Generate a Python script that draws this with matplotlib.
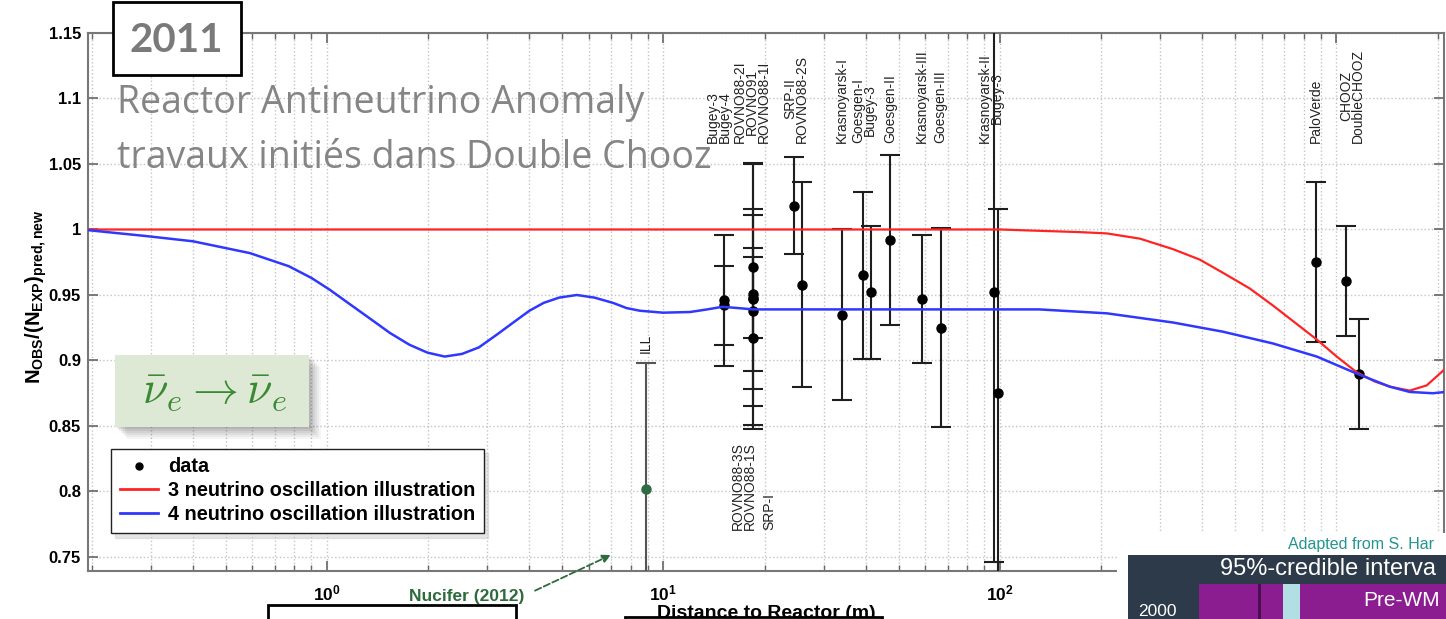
import matplotlib
matplotlib.use("Agg")
import matplotlib.pyplot as plt
from matplotlib.patches import Rectangle
from matplotlib.lines import Line2D
from matplotlib.ticker import LogLocator, NullFormatter

plt.rcParams['font.family'] = ['Liberation Sans', 'DejaVu Sans']
plt.rcParams['mathtext.fontset'] = 'custom'
plt.rcParams['mathtext.rm'] = 'Liberation Sans'
plt.rcParams['mathtext.bf'] = 'Liberation Sans:bold'
plt.rcParams['mathtext.it'] = 'Liberation Sans:italic'

# ---------------- data ----------------
# reactor experiments: distance (m), observed/expected ratio, error
exp_dist = [15.18, 15.18, 18.45, 18.45, 18.45, 18.45, 18.45, 18.45, 24.4, 25.8,
            33.9, 39.2, 41.4, 47.3, 58.9, 67.0, 96.0, 98.7, 869, 1067, 1167]
exp_ratio = [0.942, 0.946, 0.971, 0.951, 0.947, 0.938, 0.917, 0.948, 1.018, 0.958,
             0.935, 0.965, 0.952, 0.992, 0.947, 0.925, 0.952, 0.875, 0.975, 0.961, 0.890]
exp_err = [0.030, 0.050, 0.079, 0.100, 0.069, 0.073, 0.069, 0.031, 0.037, 0.078,
           0.065, 0.064, 0.051, 0.065, 0.049, 0.076, 0.206, 0.141, 0.061, 0.042, 0.042]

# ILL point (drawn in green)
ill_dist = [8.87]
ill_ratio = [0.802]
ill_err = [0.096]

# 3 neutrino oscillation illustration
red_dist = [0.195, 100, 131, 173, 208, 261, 327, 393, 460, 553, 648, 753, 875,
            1003, 1150, 1301, 1443, 1653, 1857, 2115]
red_ratio = [1.0, 1.0, 0.999, 0.998, 0.997, 0.993, 0.985, 0.977, 0.967, 0.955, 0.942,
             0.929, 0.916, 0.903, 0.891, 0.884, 0.880, 0.877, 0.881, 0.894]

# 4 neutrino oscillation illustration
blue_dist = [0.195, 0.29, 0.40, 0.59, 0.77, 0.90, 1.02, 1.17, 1.36, 1.54, 1.76,
             1.99, 2.24, 2.52, 2.83, 3.21, 3.67, 4.00, 4.41, 4.90, 5.53, 6.24,
             7.08, 7.78, 8.51, 9.97, 12.0, 13.5, 15.0, 16.7, 18.5, 35.8, 100,
             131, 208, 327, 460, 648, 875, 1150, 1443, 1653, 1935, 2115]
blue_ratio = [0.9995, 0.995, 0.991, 0.982, 0.972, 0.963, 0.954, 0.943, 0.931,
              0.921, 0.912, 0.906, 0.903, 0.905, 0.910, 0.920, 0.931, 0.938,
              0.944, 0.948, 0.950, 0.948, 0.944, 0.940, 0.938, 0.9365, 0.937,
              0.939, 0.941, 0.940, 0.939, 0.939, 0.939, 0.939, 0.936, 0.929,
              0.922, 0.913, 0.903, 0.890, 0.880, 0.876, 0.875, 0.876]

# experiment names (stacked names share one label)
top_labels = ['Bugey-3\nBugey-4', 'ROVNO88-2I\nROVNO91\nROVNO88-1I',
              'SRP-II\nROVNO88-2S', 'Krasnoyarsk-I', 'Goesgen-I\nBugey-3',
              'Goesgen-II', 'Krasnoyarsk-III', 'Goesgen-III',
              'Krasnoyarsk-II\nBugey-3', 'PaloVerde', 'CHOOZ\nDoubleCHOOZ']
top_label_x = [14.6, 18.3, 24.8, 33.9, 39.4, 47.1, 58.7, 66.3, 94.0, 869, 1112]
bottom_labels = ['ROVNO88-3S\nROVNO88-1S', 'SRP-I']
bottom_label_x = [17.35, 20.7]

yticks = [0.75, 0.8, 0.85, 0.9, 0.95, 1.0, 1.05, 1.1, 1.15]
ytick_labels = ['0.75', '0.8', '0.85', '0.9', '0.95', '1', '1.05', '1.1', '1.15']
xticks = [1, 10, 100, 1000]
xtick_labels = [r'$\mathbf{10^{0}}$', r'$\mathbf{10^{1}}$', r'$\mathbf{10^{2}}$', r'$\mathbf{10^{3}}$']

# ---------------- figure ----------------
W, H = 1446, 619
fig = plt.figure(figsize=(W / 100, H / 100), dpi=100)


def fbox(x0, y0, x1, y1):
    # pixel box (top-left origin) -> figure fraction rectangle args
    return (x0 / W, 1 - y1 / H), (x1 - x0) / W, (y1 - y0) / H


ax = fig.add_axes([88 / W, 1 - 571 / H, (1444 - 88) / W, (571 - 33) / H])
ax.set_xscale('log')
ax.set_xlim(0.195, 2090)
ax.set_ylim(0.7393, 1.15)

ax.grid(True, which='both', axis='x', ls=':', color='#c4c4c4', lw=1)
ax.grid(True, which='major', axis='y', ls=':', color='#c4c4c4', lw=1)

ax.errorbar(exp_dist, exp_ratio, yerr=exp_err, fmt='o', color='k', ecolor='#1e1e1e',
            elinewidth=1.5, capsize=7, capthick=1.5, ms=6.5, zorder=3)
ax.errorbar(ill_dist, ill_ratio, yerr=ill_err, fmt='o', color='#2f6b42', ecolor='#555555',
            elinewidth=1.5, capsize=7, capthick=1.5, ms=6.5, zorder=3)

ax.plot(red_dist, red_ratio, color='#ff2424', lw=1.6, zorder=4)
ax.plot(blue_dist, blue_ratio, color='#3038ff', lw=1.8, zorder=4)

for name, x in zip(top_labels, top_label_x):
    ax.text(x, 1.066, name, rotation=90, ha='center', va='bottom', fontsize=10,
            linespacing=0.8, color='#222222')
for name, x in zip(bottom_labels, bottom_label_x):
    ax.text(x, 0.7706, name, rotation=90, ha='center', va='bottom', fontsize=10,
            linespacing=0.8, color='#222222')
ax.text(ill_dist[0], 0.906, 'ILL', rotation=90, ha='center', va='bottom', fontsize=10, color='#222222')

ax.set_yticks(yticks)
ax.set_yticklabels(ytick_labels, fontweight='bold', fontsize=12)
ax.set_xticks(xticks)
ax.set_xticklabels(xtick_labels, fontsize=12.5)
ax.xaxis.set_minor_locator(LogLocator(base=10, subs=range(2, 10)))
ax.xaxis.set_minor_formatter(NullFormatter())
ax.tick_params(which='both', direction='in', top=True, right=True, color='#666666')
ax.tick_params(which='major', length=7, width=1.2)
ax.tick_params(which='minor', length=4, width=1)
ax.tick_params(axis='x', pad=9)
ax.tick_params(axis='y', pad=5)
for s in ax.spines.values():
    s.set_color('#777777')
    s.set_linewidth(1.5)

# the axis title sits partly under the white box of the slide, as in the original
ax.set_xlabel('Distance to Reactor (m)', fontsize=14, fontweight='bold', labelpad=1)
ax.set_ylabel(r'$\mathbf{N_{OBS}/(N_{EXP})_{pred,new}}$', fontsize=14.5)
ax.yaxis.set_label_coords(-0.029, 0.51)

handles = [Line2D([], [], ls='none', marker='o', color='k', ms=5),
           Line2D([], [], color='#ff2424', lw=2),
           Line2D([], [], color='#3038ff', lw=2)]
leg = ax.legend(handles, ['data', '3 neutrino oscillation illustration', '4 neutrino oscillation illustration'],
                loc='lower left', bbox_to_anchor=(0.017, 0.07), borderaxespad=0,
                prop={'weight': 'bold', 'size': 14.3}, frameon=True, fancybox=False,
                edgecolor='#222222', handlelength=1.9, handletextpad=0.5, labelspacing=0.25,
                borderpad=0.45, shadow={'color': '0.8', 'ox': 3, 'oy': -3})
leg.get_frame().set_linewidth(1.0)

ax.annotate('Nucifer (2012)', xy=(6.98, 0.7515), xycoords='data',
            xytext=(467, H - 597), textcoords='figure pixels', ha='center', va='center',
            color='#2e6b3c', fontsize=12.5, fontweight='bold', annotation_clip=False,
            arrowprops=dict(arrowstyle='-|>', ls='--', color='#2e6b3c', lw=1.3,
                            relpos=(1.0, 0.6), shrinkA=6, shrinkB=0, mutation_scale=12))

# ---------------- slide overlays ----------------
# year box
xy, w, h = fbox(113, 2, 241, 75)
fig.add_artist(Rectangle(xy, w, h, transform=fig.transFigure, facecolor='white',
                         edgecolor='black', lw=2, zorder=5))
fig.text(176 / W, 1 - 40 / H, '2011', ha='center', va='center', fontsize=29,
         fontweight='bold', family='Lato', color='#7a7a7a', zorder=6)

fig.text(117 / W, 1 - 113 / H, 'Reactor Antineutrino Anomaly', ha='left', va='baseline',
         fontsize=27, family='Open Sans', color='#858585', zorder=6)
fig.text(117 / W, 1 - 168 / H, 'travaux initiés dans Double Chooz', ha='left', va='baseline',
         fontsize=27, family='Open Sans', color='#858585', zorder=6)

# green process box with soft shadow
for k, a in zip(range(12, 0, -2), [0.05, 0.06, 0.07, 0.08, 0.09, 0.10]):
    xy, w, h = fbox(115 + k, 355 + k, 309 + k, 427 + k)
    fig.add_artist(Rectangle(xy, w, h, transform=fig.transFigure, facecolor='#404040',
                             edgecolor='none', alpha=a, zorder=5))
xy, w, h = fbox(115, 355, 309, 427)
fig.add_artist(Rectangle(xy, w, h, transform=fig.transFigure, facecolor='#dde9d4',
                         edgecolor='none', zorder=5))
fig.text(214 / W, 1 - 391 / H, r'$\bar{\nu}_e \rightarrow \bar{\nu}_e$', ha='center', va='center',
         fontsize=33, color='#3a8a34', math_fontfamily='cm', zorder=6)

# white boxes at the bottom
xy, w, h = fbox(268, 605, 516, 640)
fig.add_artist(Rectangle(xy, w, h, transform=fig.transFigure, facecolor='white',
                         edgecolor='black', lw=2, zorder=5))
xy, w, h = fbox(625, 617, 882, 640)
fig.add_artist(Rectangle(xy, w, h, transform=fig.transFigure, facecolor='white',
                         edgecolor='black', lw=2, zorder=5))

# inset picture, bottom right
xy, w, h = fbox(1117, 533, 1450, 625)
fig.add_artist(Rectangle(xy, w, h, transform=fig.transFigure, facecolor='white',
                         edgecolor='none', zorder=5))
fig.text(1288 / W, 1 - 545 / H, 'Adapted from S. Har', ha='left', va='center',
         fontsize=11.5, color='#23958f', zorder=6)
xy, w, h = fbox(1128, 555, 1450, 625)
fig.add_artist(Rectangle(xy, w, h, transform=fig.transFigure, facecolor='#2d3a49',
                         edgecolor='none', zorder=5))
fig.text(1220 / W, 1 - 569 / H, '95%-credible interva', ha='left', va='center',
         fontsize=17, color='white', zorder=6)
xy, w, h = fbox(1199, 584, 1450, 625)
fig.add_artist(Rectangle(xy, w, h, transform=fig.transFigure, facecolor='#8c1d90',
                         edgecolor='none', zorder=5))
xy, w, h = fbox(1258, 584, 1261, 625)
fig.add_artist(Rectangle(xy, w, h, transform=fig.transFigure, facecolor='#4a0f50',
                         edgecolor='none', zorder=5))
xy, w, h = fbox(1283, 584, 1300, 625)
fig.add_artist(Rectangle(xy, w, h, transform=fig.transFigure, facecolor='#b2dfe3',
                         edgecolor='none', zorder=5))
fig.text(1363 / W, 1 - 600 / H, 'Pre-WM', ha='left', va='center',
         fontsize=15, color='white', zorder=6)
fig.text(1138 / W, 1 - 612 / H, '2000', ha='left', va='center',
         fontsize=12.5, color='white', zorder=6)

fig.savefig('out.png', dpi=100)
